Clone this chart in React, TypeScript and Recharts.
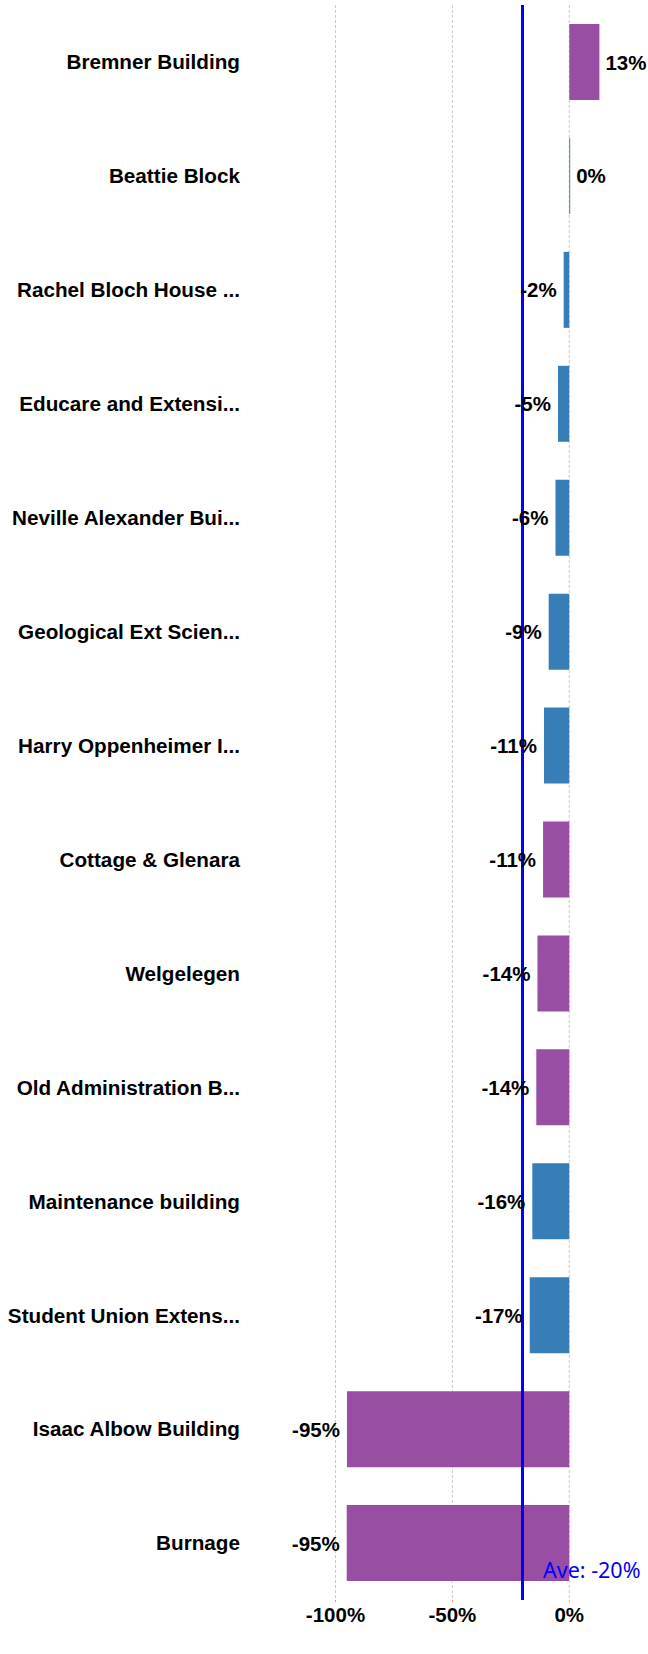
import { BarChart, Bar, XAxis, YAxis, CartesianGrid, ReferenceLine, LabelList, Cell } from "recharts";

const buildings = [
  "Bremner Building",
  "Beattie Block",
  "Rachel Bloch House ...",
  "Educare and Extensi...",
  "Neville Alexander Bui...",
  "Geological Ext Scien...",
  "Harry Oppenheimer I...",
  "Cottage & Glenara",
  "Welgelegen",
  "Old Administration B...",
  "Maintenance building",
  "Student Union Extens...",
  "Isaac Albow Building",
  "Burnage",
];
const change = [12.9, 0.4, -2.4, -4.8, -5.9, -8.8, -10.8, -11.2, -13.6, -14.1, -15.8, -16.9, -95.1, -95.2];
const labels = ["13%", "0%", "-2%", "-5%", "-6%", "-9%", "-11%", "-11%", "-14%", "-14%", "-16%", "-17%", "-95%", "-95%"];
const isHeritage = [true, false, false, false, false, false, false, true, true, true, false, false, true, true];
const xTicks = [-100, -50, 0];
const average = -20;

const PURPLE = "#984ea3";
const BLUE = "#377eb8";
const FONT = "'Liberation Sans', Arial, sans-serif";

const data = buildings.map((name, i) => ({ name, change: change[i], label: labels[i] }));

function ValueLabel(props: any) {
  const { x, y, width, height, index } = props;
  const v = change[index];
  const left = Math.min(x, x + width);
  const right = Math.max(x, x + width);
  const pos = v >= 0;
  return (
    <text
      x={pos ? right + 6 : left - 7}
      y={y + height / 2}
      textAnchor={pos ? "start" : "end"}
      dominantBaseline="central"
      fontFamily={FONT}
      fontWeight="bold"
      fontSize={20.5}
      fill="#000"
    >
      {labels[index]}
    </text>
  );
}

function AveLabel(props: any) {
  const { viewBox } = props;
  return (
    <text x={viewBox.x + 20.5} y={viewBox.y + viewBox.height - 22} fontFamily="'Noto Sans', sans-serif" fontSize={21.5} fill="#0000ff">
      {`Ave: ${average}%`}
    </text>
  );
}

export default function App() {
  return (
    <div style={{ position: "absolute", left: 0, top: 0, background: "#fff" }}>
      <BarChart
        width={648}
        height={1654}
        data={data}
        layout="vertical"
        margin={{ top: 5, right: 32, bottom: 0, left: 0 }}
        barSize={76}
      >
        <CartesianGrid horizontal={false} syncWithTicks strokeDasharray="3 2" stroke="#c8c8c8" />
        <XAxis
          type="number"
          domain={[-140, 20]}
          ticks={xTicks}
          tickFormatter={(v) => `${v}%`}
          axisLine={false}
          tickLine={{ stroke: "#ff9933" }}
          tickSize={2}
          tickMargin={5}
          height={54}
          tick={{ fill: "#000", fontSize: 20.5, fontWeight: "bold", fontFamily: FONT }}
        />
        <YAxis
          type="category"
          dataKey="name"
          width={242}
          axisLine={false}
          tickLine={false}
          tickSize={0}
          tickMargin={2}
          interval={0}
          tick={{ fill: "#000", fontSize: 20.7, fontWeight: "bold", fontFamily: FONT }}
        />
        <Bar dataKey="change" isAnimationActive={false}>
          {data.map((d, i) => (
            <Cell key={d.name} fill={isHeritage[i] ? PURPLE : BLUE} />
          ))}
          <LabelList dataKey="label" content={<ValueLabel />} />
        </Bar>
        <ReferenceLine x={average} stroke="#0000ff" strokeWidth={3} label={<AveLabel />} />
      </BarChart>
    </div>
  );
}
